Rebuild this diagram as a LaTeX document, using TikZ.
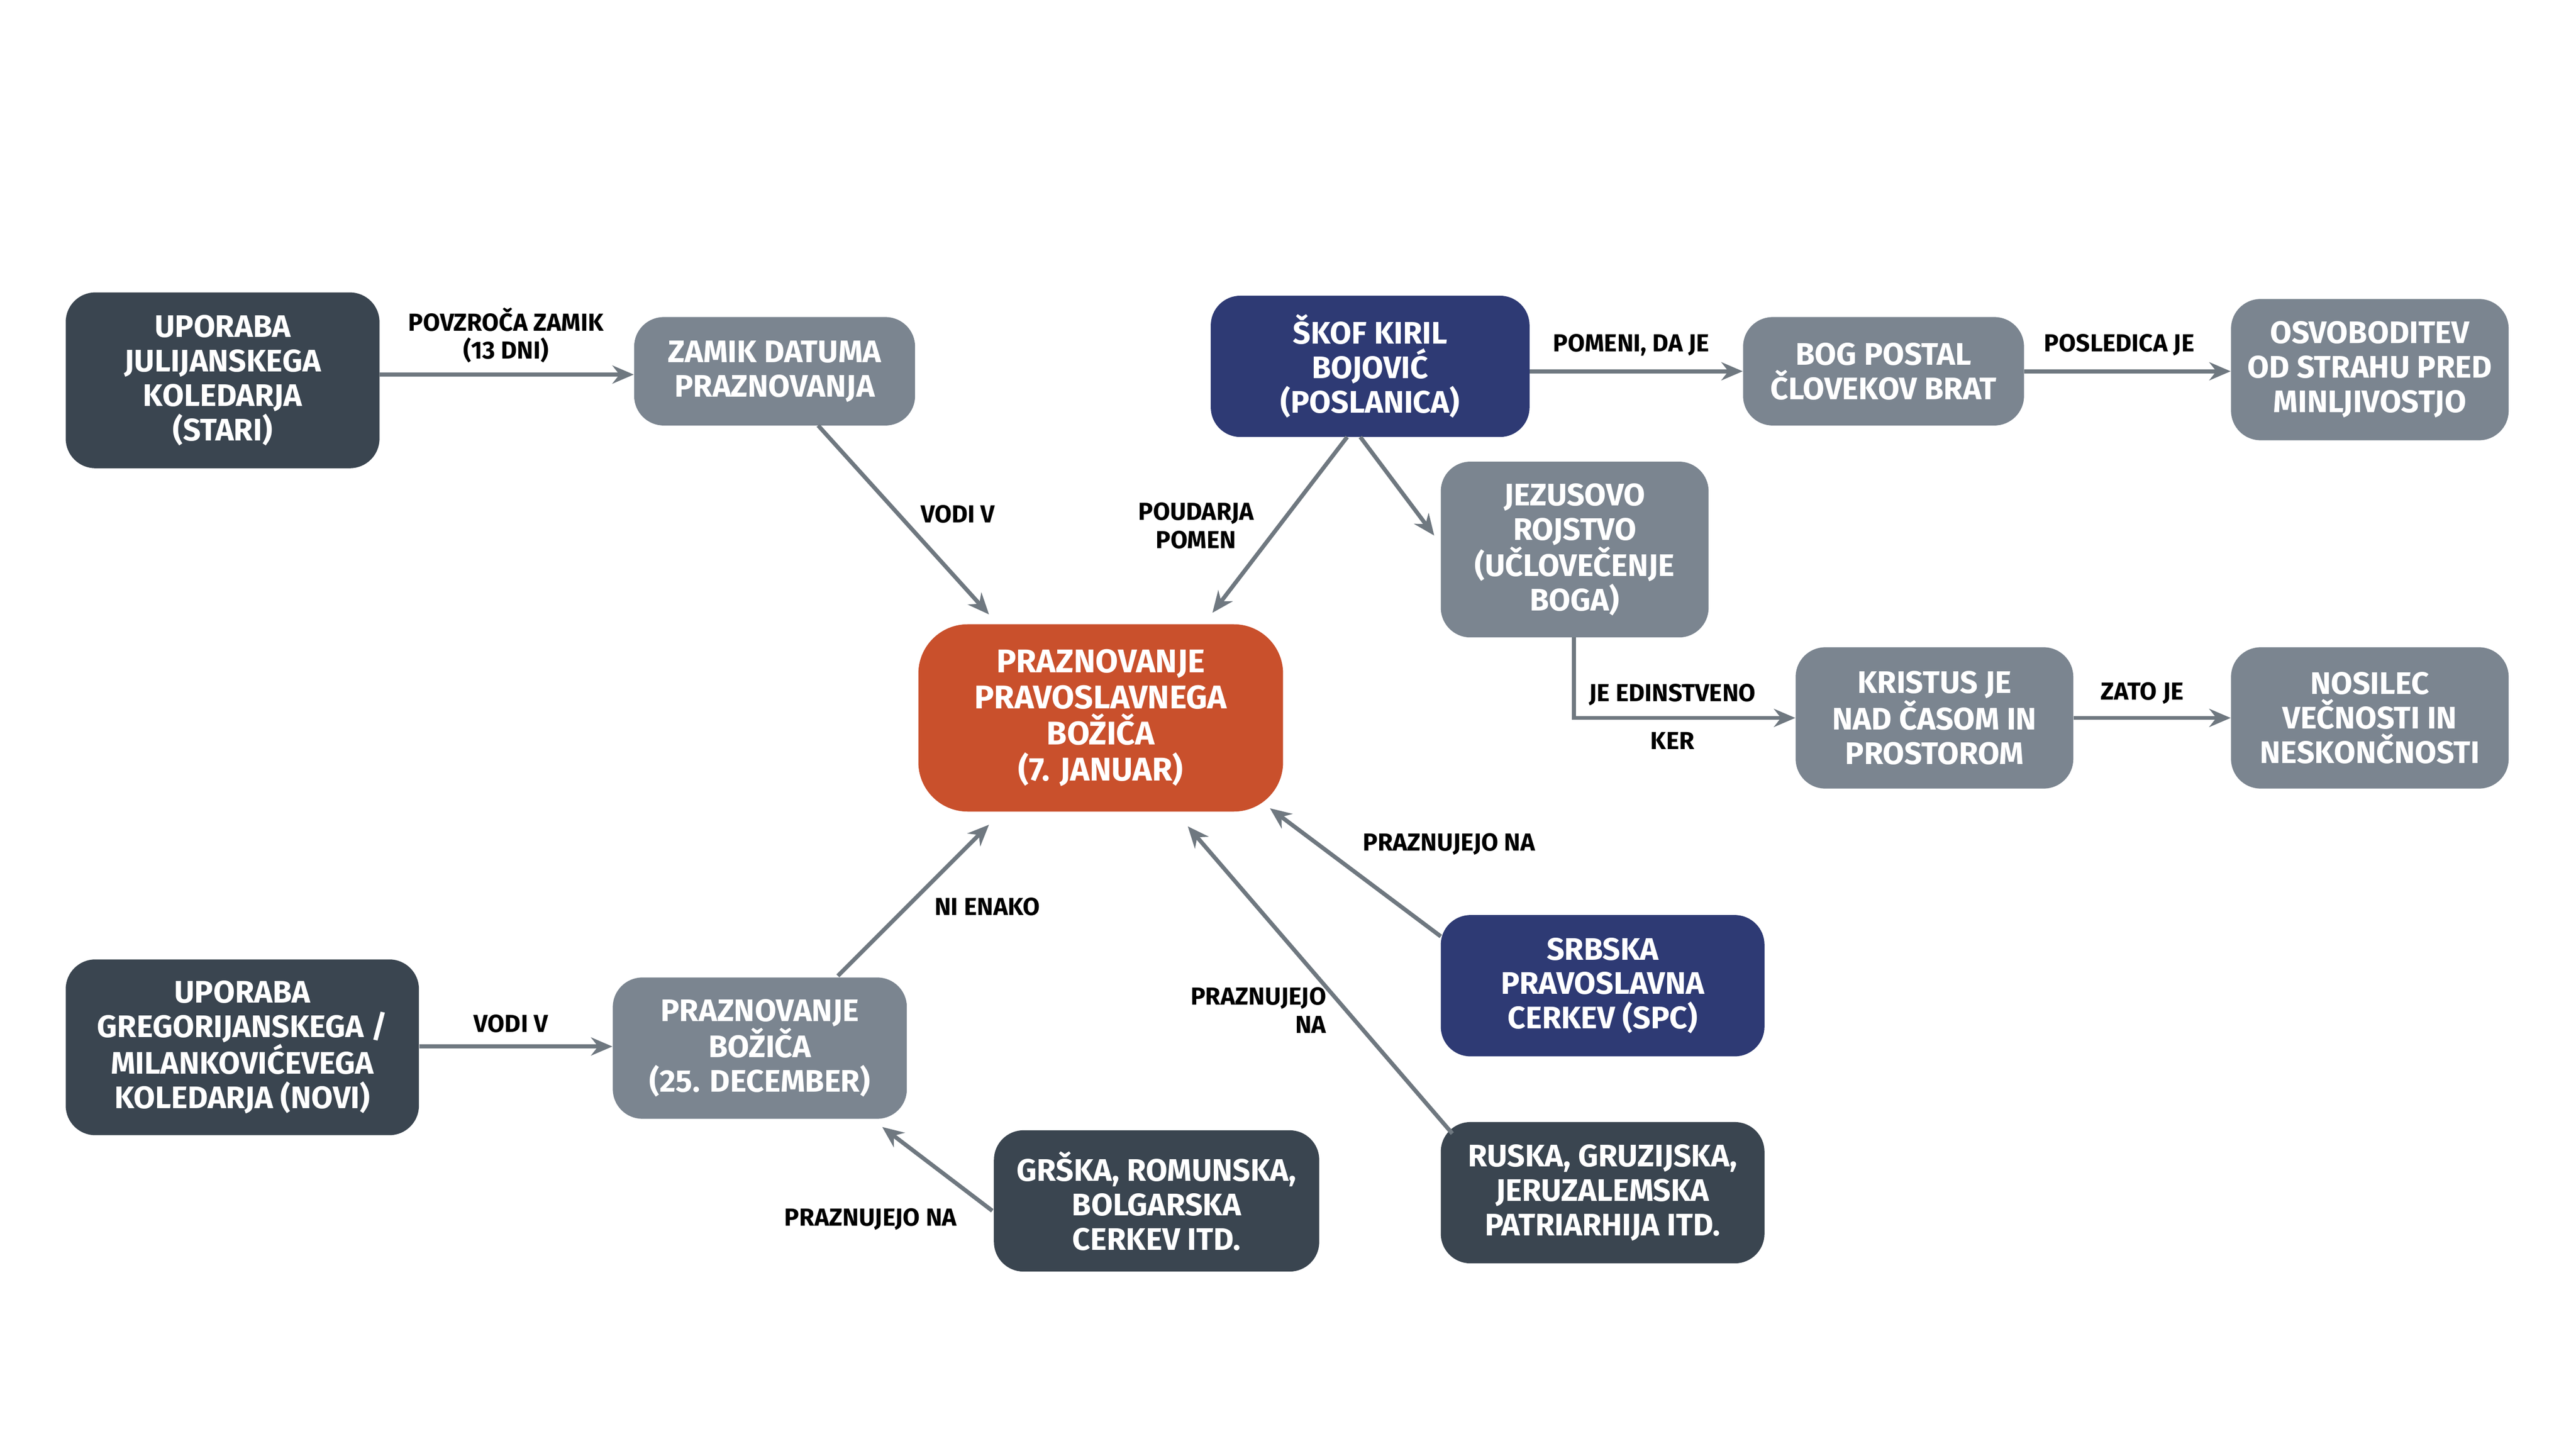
\documentclass[tikz,border=0pt]{standalone}
\usepackage{fontspec}
\setmainfont{Fira Sans}
\usetikzlibrary{arrows.meta}
\definecolor{dk}{HTML}{3A4550}
\definecolor{gr}{HTML}{7B8590}
\definecolor{nv}{HTML}{2E3A74}
\definecolor{og}{HTML}{C9502C}
\definecolor{ln}{HTML}{6F7880}
\begin{document}
\begin{tikzpicture}[x=1pt,y=-1pt,
 box/.style={rounded corners=18pt,text=white,align=center,font=\fontsize{19}{21}\selectfont\bfseries,inner sep=0pt},
 dkb/.style={box,fill=dk},grb/.style={box,fill=gr},nvb/.style={box,fill=nv},
 ar/.style={draw=ln,line width=2.5pt,-{Stealth[length=13pt,width=11pt]}},
 lb/.style={font=\fontsize{15}{17}\selectfont\bfseries,align=center,text=black}]
\useasboundingbox (0,0) rectangle (1568,877);
\node[dkb,minimum width=191pt,minimum height=107pt] (jul) at (135.5,231.5) {UPORABA\\JULIJANSKEGA\\KOLEDARJA\\(STARI)};
\node[grb,minimum width=171pt,minimum height=66pt] (zam) at (471.5,226) {ZAMIK DATUMA\\PRAZNOVANJA};
\node[nvb,minimum width=194pt,minimum height=86pt] (sko) at (834,223) {ŠKOF KIRIL\\BOJOVIĆ\\(POSLANICA)};
\node[grb,minimum width=171pt,minimum height=66pt] (bog) at (1146.5,226) {BOG POSTAL\\ČLOVEKOV BRAT};
\node[grb,minimum width=169pt,minimum height=86pt] (osv) at (1442.5,225) {OSVOBODITEV\\OD STRAHU PRED\\MINLJIVOSTJO};
\node[grb,minimum width=163pt,minimum height=107pt] (jez) at (958.5,334.5) {JEZUSOVO\\ROJSTVO\\(UČLOVEČENJE\\BOGA)};
\node[box,fill=og,rounded corners=30pt,minimum width=222pt,minimum height=114pt,font=\fontsize{20}{22}\selectfont\bfseries] (cen) at (670,437) {PRAZNOVANJE\\PRAVOSLAVNEGA\\BOŽIČA\\(7. JANUAR)};
\node[grb,minimum width=169pt,minimum height=86pt] (kri) at (1177.5,437) {KRISTUS JE\\NAD ČASOM IN\\PROSTOROM};
\node[grb,minimum width=169pt,minimum height=86pt] (nos) at (1442.5,437) {NOSILEC\\VEČNOSTI IN\\NESKONČNOSTI};
\node[nvb,minimum width=197pt,minimum height=86pt] (srb) at (975.5,600) {SRBSKA\\PRAVOSLAVNA\\CERKEV (SPC)};
\node[dkb,minimum width=215pt,minimum height=107pt] (gre) at (147.5,637.5) {UPORABA\\GREGORIJANSKEGA /\\MILANKOVIĆEVEGA\\KOLEDARJA (NOVI)};
\node[grb,minimum width=179pt,minimum height=86pt] (p25) at (462.5,638) {PRAZNOVANJE\\BOŽIČA\\(25. DECEMBER)};
\node[dkb,minimum width=198pt,minimum height=86pt] (grs) at (704,731) {GRŠKA, ROMUNSKA,\\BOLGARSKA\\CERKEV ITD.};
\node[dkb,minimum width=197pt,minimum height=86pt] (rus) at (975.5,726) {RUSKA, GRUZIJSKA,\\JERUZALEMSKA\\PATRIARHIJA ITD.};
\coordinate (c1) at (602,374); \coordinate (c2) at (738,373);
\coordinate (c3) at (773,492); \coordinate (c4) at (723,503); \coordinate (c5) at (602,502);
\coordinate (j1) at (873,326); \coordinate (g1) at (537,686);
\draw[ar] (jul.east|-0,228) -- (zam.west|-0,228);
\draw[ar] (498,259) -- (c1);
\draw[ar] (820,266) -- (c2);
\draw[ar] (828,266) -- (j1);
\draw[ar] (sko.east|-0,226) -- (bog.west|-0,226);
\draw[ar] (bog.east|-0,226) -- (osv.west|-0,226);
\draw[ar] (958,388) |- (kri.west|-0,437);
\draw[ar] (kri) -- (nos);
\draw[ar] (877,570) -- (c3);
\draw[ar] (884,690) -- (c4);
\draw[ar] (510,594) -- (c5);
\draw[ar] (gre.east|-0,637) -- (p25.west|-0,637);
\draw[ar] (604,737) -- (g1);
\node[lb] at (308,204) {POVZROČA ZAMIK\\(13 DNI)};
\node[lb] at (583,313) {VODI V};
\node[lb] at (728,320) {POUDARJA\\POMEN};
\node[lb] at (993,210) {POMENI, DA JE};
\node[lb] at (1290,210) {POSLEDICA JE};
\node[lb] at (1018,423) {JE EDINSTVENO};
\node[lb] at (1018,451) {KER};
\node[lb] at (1304,422) {ZATO JE};
\node[lb] at (882,514) {PRAZNUJEJO NA};
\node[lb,align=right] at (766,615) {PRAZNUJEJO\\NA};
\node[lb] at (601,552) {NI ENAKO};
\node[lb] at (311,623) {VODI V};
\node[lb] at (530,742) {PRAZNUJEJO NA};
\end{tikzpicture}
\end{document}
